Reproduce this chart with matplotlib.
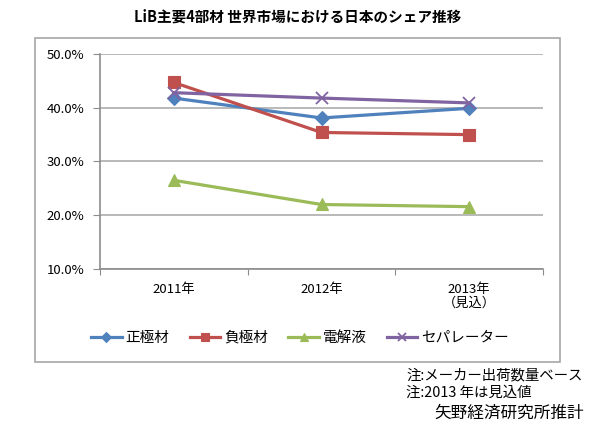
import numpy as np
import matplotlib
matplotlib.use('Agg')
import matplotlib.pyplot as plt
from matplotlib.patches import Rectangle

plt.rcParams['font.family'] = ['Noto Sans CJK JP', 'DejaVu Sans']

years = ['2011年', '2012年', '2013年\n（見込）']
seikyoku = [41.8, 38.1, 39.9]
fukyoku = [44.7, 35.4, 35.0]
denkai = [26.5, 22.0, 21.6]
separator = [42.8, 41.8, 40.9]

series = [('正極材', seikyoku, '#4F81BD', 'D', 7),
          ('負極材', fukyoku, '#C0504D', 's', 8),
          ('電解液', denkai, '#9BBB59', '^', 8),
          ('セパレーター', separator, '#8064A2', 'x', 8)]

fig = plt.figure(figsize=(5.95, 4.36), dpi=100)
fig.patches.append(Rectangle((35/595, 1-362/436), (560-35)/595, (362-38)/436,
                             transform=fig.transFigure, fill=False,
                             edgecolor='#A6A6A6', lw=1.2))
ax = fig.add_axes([100/595, 1-269/436, 443/595, 215/436])

x = np.arange(len(years))
handles = []
for name, vals, col, mk, ms in series:
    h, = ax.plot(x, vals, color=col, lw=2.3, marker=mk, markersize=ms,
                 markeredgewidth=1.3 if mk == 'x' else 0.8,
                 markeredgecolor=col, markerfacecolor=col, label=name)
    handles.append(h)

ax.set_xlim(-0.5, 2.5)
ax.set_ylim(10, 50)
ax.set_yticks([10, 20, 30, 40, 50])
ax.set_yticklabels(['%.1f%%' % v for v in [10, 20, 30, 40, 50]], fontsize=9.5)
ax.yaxis.grid(True, color='#A6A6A6', lw=1.1)
ax.set_axisbelow(True)
ax.set_xticks([-0.5, 0.5, 1.5, 2.5])
ax.set_xticklabels([])
ax.set_xticks(x, minor=True)
ax.set_xticklabels(years, minor=True, fontsize=9.5, linespacing=1.1)
ax.tick_params(axis='x', which='minor', length=0, pad=10)
ax.tick_params(axis='x', which='major', length=4, color='#8C8C8C')
ax.tick_params(axis='y', length=5, color='#8C8C8C', pad=6)
for s in ['top', 'right']:
    ax.spines[s].set_visible(False)
for s in ['left', 'bottom']:
    ax.spines[s].set_color('#8C8C8C')
    ax.spines[s].set_linewidth(1.2)

fig.text(0.5, 1-17/436, 'LiB主要4部材 世界市場における日本のシェア推移',
         ha='center', va='center', fontsize=10.5, fontweight='bold')

fig.legend(handles=handles, loc='center', bbox_to_anchor=(300/595, 1-338/436),
           ncol=4, frameon=False, fontsize=10.5, handlelength=2.1,
           markerscale=0.75, columnspacing=1.4, handletextpad=0.25, borderpad=0)

fig.text(406/595, 1-375/436, '注:メーカー出荷数量ベース', fontsize=10.4, va='center')
fig.text(406/595, 1-393/436, '注:2013 年は見込値', fontsize=10.4, va='center')
fig.text(434/595, 1-413/436, '矢野経済研究所推計', fontsize=12, va='center')

fig.savefig('out.png', dpi=100)
